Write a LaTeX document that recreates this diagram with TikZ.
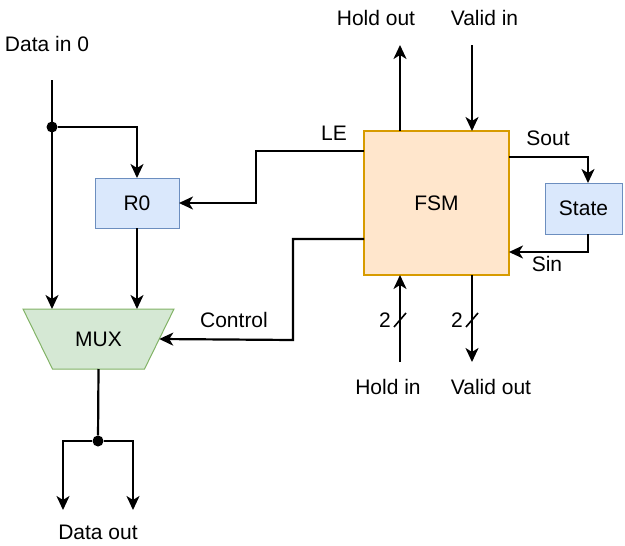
\documentclass[tikz,border=0pt]{standalone}
\usepackage{fontspec}
\setmainfont{Liberation Sans}
\usetikzlibrary{arrows.meta,calc}
\definecolor{blueF}{HTML}{DAE8FC}
\definecolor{blueD}{HTML}{6C8EBF}
\definecolor{greenF}{HTML}{D5E8D4}
\definecolor{greenD}{HTML}{82B366}
\definecolor{orangeF}{HTML}{FFE6CC}
\definecolor{orangeD}{HTML}{D79B00}
\tikzset{
  txt/.style={font=\fontsize{21}{25}\selectfont},
  lbl/.style={txt, inner sep=0pt},
  regbox/.style={txt, draw=blueD, fill=blueF, line width=1pt, inner sep=0pt, outer sep=0pt},
  fsmbox/.style={txt, draw=orangeD, fill=orangeF, line width=2pt, inner sep=0pt, outer sep=0pt, minimum width=145pt, minimum height=144pt},
  muxbody/.style={txt, inner sep=0pt, outer sep=0pt, minimum width=151pt, minimum height=60pt},
  muxshape/.style={draw=greenD, fill=greenF, line width=1pt, line join=miter},
  wire/.style={line width=2.2pt},
  arr/.style={wire, -{Stealth[length=14pt,width=13pt,inset=4pt]}},
  dotnode/.style={circle, fill=black, inner sep=0pt, minimum size=11pt},
}
\begin{document}
\begin{tikzpicture}[x=1pt,y=-1pt]
\useasboundingbox (0,0) rectangle (625,546);

% blocks
\node[regbox, minimum width=84pt, minimum height=50pt] (r0) at (137,203) {R0};
\node[muxbody] (mux) at (98.5,339) {};
\draw[muxshape] (mux.north west) -- (mux.north east) -- ([xshift=-29.5pt]mux.south east)
   -- ([xshift=29.5pt]mux.south west) -- cycle;
\node[lbl] at (mux.center) {MUX};
\coordinate (muxsel) at ($(mux.north east)!0.5!([xshift=-29.5pt]mux.south east)$);
\node[fsmbox] (fsm) at (436.5,203) {FSM};
\node[regbox, minimum width=77pt, minimum height=51pt] (state) at (583.5,208.5) {State};

% coordinates
\coordinate (din) at (52,80);
\node[dotnode] (j1) at (52,127) {};
\node[dotnode] (j2) at (98,441) {};
\coordinate (dout1) at (63,510);
\coordinate (dout2) at (133,510);
\coordinate (hout) at (400,45);
\coordinate (vin) at (472,45);
\coordinate (hin) at (400,362);
\coordinate (vout) at (472,362);

% labels
\node[lbl] (tdin) at (47,44) {Data in 0};
\node[lbl] (tdout) at (98,532) {Data out};
\node[lbl] (thout) at (376,18) {Hold out};
\node[lbl] (tvin) at (484.5,18) {Valid in};
\node[lbl] (tle) at (334,133) {LE};
\node[lbl] (tctl) at (234,320) {Control};
\node[lbl] (tsout) at (548,138) {Sout};
\node[lbl] (tsin) at (547,264) {Sin};
\node[lbl] (thin) at (388,387) {Hold in};
\node[lbl] (tvout) at (491,387) {Valid out};
\node[lbl] (two1) at (385,320) {2};
\node[lbl] (two2) at (457,320) {2};

% data path
\draw[arr] (din) -- (din |- mux.north);
\draw[arr] (j1) -| (r0.north);
\draw[arr] (r0.south) -- (r0.south |- mux.north);
\draw[wire] (mux.south) -- (j2);
\draw[arr] (j2) -| (dout1);
\draw[arr] (j2) -| (dout2);

% FSM connections
\draw[arr] ([yshift=-20pt]fsm.north west) -- (256,151) -- (256,203) -- (r0.east);
\draw[arr] ([yshift=36pt]fsm.south west) -- (293,239) -- (293,340) -- (muxsel);
\draw[arr] (fsm.north -| hout) -- (hout);
\draw[arr] (vin) -- (vin |- fsm.north);
\draw[arr] ([yshift=-26pt]fsm.north east) -- (588,157) -- (state.north -| 588,0);
\draw[arr] (state.south -| 588,0) -- (588,252) -- (fsm.east |- 0,252);
\draw[arr] (hin) -- (hin |- fsm.south);
\draw[arr] (vout |- fsm.south) -- (vout);

% bus slashes
\draw[line width=1.6pt] (394,327) -- (406,313);
\draw[line width=1.6pt] (466,327) -- (478,313);
\end{tikzpicture}
\end{document}
